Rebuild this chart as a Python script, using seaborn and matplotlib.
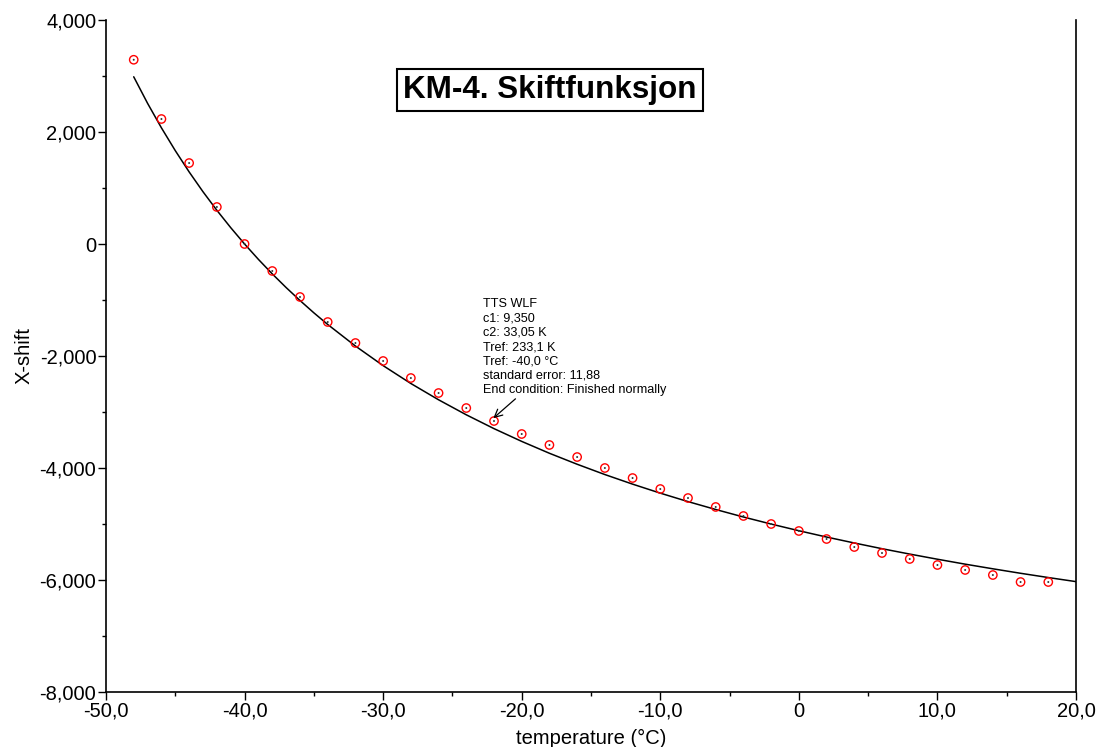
import matplotlib
matplotlib.use("Agg")
import matplotlib.pyplot as plt
import seaborn as sns
import pandas as pd
import numpy as np

# measured points
temp_pts = [-48, -46, -44, -42, -40, -38, -36, -34, -32, -30, -28, -26, -24, -22, -20, -18, -16,
            -14, -12, -10, -8, -6, -4, -2, 0, 2, 4, 6, 8, 10, 12, 14, 16, 18]
shift_pts = [3290, 2232, 1446, 661, 0, -482, -946, -1393, -1768, -2089, -2393, -2661, -2929, -3161,
             -3393, -3589, -3804, -4000, -4179, -4375, -4536, -4696, -4857, -5000, -5125, -5268,
             -5411, -5518, -5625, -5732, -5821, -5911, -6036, -6036]

# fitted curve
temp_fit = [-48, -47, -46, -45, -44, -43, -42, -41, -40, -39, -38, -37, -36, -35, -34, -32, -30,
            -28, -26, -24, -22, -20, -18, -16, -14, -12, -10, -8, -6, -4, -2, 0, 2, 4, 6, 8, 10,
            12, 14, 16, 18, 20]
shift_fit = [2986, 2512, 2074, 1667, 1287, 933, 602, 292, 0, -275, -534, -778, -1009, -1229, -1437,
             -1822, -2172, -2491, -2782, -3050, -3297, -3525, -3737, -3933, -4117, -4288, -4449,
             -4600, -4741, -4875, -5001, -5120, -5233, -5339, -5441, -5537, -5629, -5717, -5800,
             -5880, -5956, -6029]

xticks = [-50, -40, -30, -20, -10, 0, 10, 20]
xtick_labels = ["-50,0", "-40,0", "-30,0", "-20,0", "-10,0", "0", "10,0", "20,0"]
yticks = [-8000, -6000, -4000, -2000, 0, 2000, 4000]
ytick_labels = ["-8,000", "-6,000", "-4,000", "-2,000", "0", "2,000", "4,000"]

title_text = "KM-4. Skiftfunksjon"
note_text = ("TTS WLF\nc1: 9,350\nc2: 33,05 K\nTref: 233,1 K\nTref: -40,0 °C\n"
             "standard error: 11,88\nEnd condition: Finished normally")

sns.set_style("ticks")
plt.rcParams['font.family'] = ['Liberation Sans', 'DejaVu Sans']
plt.rcParams['text.color'] = 'black'
plt.rcParams['axes.labelcolor'] = 'black'
plt.rcParams['xtick.color'] = 'black'
plt.rcParams['ytick.color'] = 'black'

fig = plt.figure(figsize=(10.99, 7.47), dpi=100)
ax = fig.add_axes([106/1099, 55/747, 970/1099, 672/747])

df_fit = pd.DataFrame({"t": temp_fit, "s": shift_fit})
df_pts = pd.DataFrame({"t": temp_pts, "s": shift_pts})

sns.lineplot(data=df_fit, x="t", y="s", color="black", linewidth=1.1, ax=ax)
sns.scatterplot(data=df_pts, x="t", y="s", marker="o", s=36, facecolors="none",
                edgecolor="red", linewidth=1.0, ax=ax, zorder=3)
sns.scatterplot(data=df_pts, x="t", y="s", marker="o", s=2, color="#333333",
                edgecolor="none", ax=ax, zorder=4)

ax.set_xlim(-50, 20)
ax.set_ylim(-8000, 4000)
ax.set_xticks(xticks, xtick_labels)
ax.set_yticks(yticks, ytick_labels)
ax.set_xticks([-45, -35, -25, -15, -5, 5, 15], minor=True)
ax.set_yticks([-7000, -5000, -3000, -1000, 1000, 3000], minor=True)
ax.tick_params(axis="both", which="major", length=6, width=1, labelsize=14.5, pad=1,
               color="black", labelcolor="black")
ax.tick_params(axis="both", which="minor", length=3, width=1, color="black")
ax.tick_params(axis="y", right=False)

for side in ["left", "right", "bottom"]:
    ax.spines[side].set_visible(True)
    ax.spines[side].set_color("black")
    ax.spines[side].set_linewidth(1.2)
ax.spines["top"].set_visible(False)

ax.set_xlabel("temperature (°C)", fontsize=14.5, labelpad=6, color="black")
ax.set_ylabel("X-shift", fontsize=14.5, labelpad=4, color="black")

ax.text(0.4577, 0.896, title_text, transform=ax.transAxes, fontsize=22.6, fontweight="bold",
        ha="center", va="center", color="black",
        bbox=dict(boxstyle="square,pad=0.2", facecolor="white", edgecolor="black", linewidth=1.5))

ax.text(-22.8, -960, note_text, fontsize=9.1, ha="left", va="top", linespacing=1.27, color="black")
ax.annotate("", xy=(-22.2, -3143), xytext=(-20.3, -2732),
            arrowprops=dict(arrowstyle="->", color="black", linewidth=0.9, mutation_scale=14))

fig.savefig("out.png", dpi=100)
